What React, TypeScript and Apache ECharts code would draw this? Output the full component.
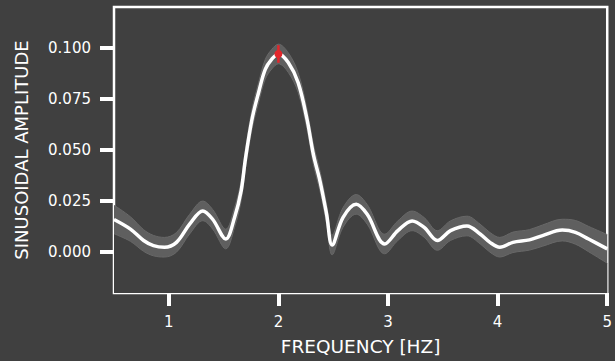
import React, { useEffect, useRef } from "react";
import * as echarts from "echarts";

// Periodogram: frequency grid (Hz) and fitted sinusoidal amplitude
const freq = [0.5, 0.65, 0.77, 0.86, 0.96, 1.07, 1.19, 1.31, 1.4, 1.52, 1.6, 1.66, 1.7, 1.76, 1.82, 1.88, 1.94, 2.0, 2.09, 2.18, 2.26, 2.32, 2.38, 2.44, 2.49, 2.59, 2.71, 2.81, 2.97, 3.09, 3.22, 3.33, 3.45, 3.57, 3.72, 3.84, 3.93, 4.02, 4.14, 4.29, 4.41, 4.59, 4.71, 4.83, 5.0];
const amplitude = [0.016, 0.0113, 0.0057, 0.0032, 0.0024, 0.0048, 0.0137, 0.0202, 0.0161, 0.0064, 0.017, 0.03, 0.046, 0.0653, 0.0783, 0.0895, 0.0945, 0.097, 0.0928, 0.083, 0.0653, 0.0476, 0.0347, 0.0185, 0.0035, 0.017, 0.0234, 0.0185, 0.004, 0.0105, 0.0153, 0.0121, 0.0057, 0.0105, 0.0128, 0.0089, 0.0048, 0.0024, 0.0048, 0.006, 0.0081, 0.0108, 0.0097, 0.0064, 0.0016];
// 1-sigma uncertainty of the amplitude
const sigma = [0.007, 0.006, 0.0053, 0.005, 0.0048, 0.0048, 0.0048, 0.0048, 0.0048, 0.0048, 0.0048, 0.0048, 0.0048, 0.0048, 0.0048, 0.0048, 0.0048, 0.0048, 0.0048, 0.0048, 0.0048, 0.0048, 0.0048, 0.0048, 0.0048, 0.0048, 0.0048, 0.0048, 0.0048, 0.0048, 0.0048, 0.0048, 0.0048, 0.0048, 0.0048, 0.0048, 0.0048, 0.0048, 0.005, 0.005, 0.0052, 0.0053, 0.0058, 0.0062, 0.007];

// Best-fit peak with its error bar
const peakFreq = [2.0];
const peakAmp = [0.097];
const peakErr = [0.0043];

const xTicks = [1, 2, 3, 4, 5];
const yTicks = [0, 0.025, 0.05, 0.075, 0.1];

const FONT = "DejaVu Sans";
const BG = "#404040";
const BAND = "#5f5f5f";
const RED = "#e3262b";

export default function App() {
  const ref = useRef<HTMLDivElement>(null);

  useEffect(() => {
    if (!ref.current) return;
    const chart = echarts.init(ref.current, undefined, { renderer: "svg" });

    const upper = freq.map((f, i) => [f, amplitude[i] + sigma[i]]);
    const lower = freq.map((f, i) => [f, amplitude[i] - sigma[i]]);
    const line = freq.map((f, i) => [f, amplitude[i]]);
    const peak = peakFreq.map((f, i) => [f, peakAmp[i], peakErr[i]]);

    chart.setOption({
      animation: false,
      backgroundColor: BG,
      grid: {
        left: 114,
        right: 3,
        top: 7,
        bottom: 65,
        show: true,
        borderColor: "#ffffff",
        borderWidth: 2.5,
        backgroundColor: "transparent",
      },
      xAxis: {
        type: "value",
        min: 0.5,
        max: 5,
        name: "FREQUENCY [HZ]",
        nameLocation: "middle",
        nameGap: 44,
        nameTextStyle: { color: "#ffffff", fontFamily: FONT, fontSize: 18.5 },
        axisLine: { show: false, onZero: false },
        axisTick: {
          show: true,
          customValues: xTicks,
          length: 13,
          lineStyle: { color: "#ffffff", width: 4 },
        },
        axisLabel: {
          customValues: xTicks,
          color: "#ffffff",
          fontFamily: FONT,
          fontSize: 15,
          margin: 21,
          formatter: (v: number) => String(v),
        },
        splitLine: { show: false },
      },
      yAxis: {
        type: "value",
        min: -0.02,
        max: 0.12,
        name: "SINUSOIDAL AMPLITUDE",
        nameLocation: "middle",
        nameGap: 84,
        nameTextStyle: { color: "#ffffff", fontFamily: FONT, fontSize: 18 },
        axisLine: { show: false, onZero: false },
        axisTick: {
          show: true,
          customValues: yTicks,
          length: 14,
          lineStyle: { color: "#ffffff", width: 4 },
        },
        axisLabel: {
          customValues: yTicks,
          color: "#ffffff",
          fontFamily: FONT,
          fontSize: 15,
          margin: 23,
          formatter: (v: number) => v.toFixed(3),
        },
        splitLine: { show: false },
      },
      series: [
        // uncertainty band: upper edge filled grey down to the floor...
        {
          type: "line",
          data: upper,
          smooth: 0.35,
          symbol: "none",
          lineStyle: { color: "#686868", width: 1 },
          areaStyle: { color: BAND, opacity: 1, origin: "start" },
          silent: true,
          z: 1,
        },
        // ...and the region under the lower edge painted back with the background
        {
          type: "line",
          data: lower,
          smooth: 0.35,
          symbol: "none",
          lineStyle: { color: "#686868", width: 1 },
          areaStyle: { color: BG, opacity: 1, origin: "start" },
          silent: true,
          z: 2,
        },
        {
          type: "line",
          data: line,
          smooth: 0.35,
          symbol: "none",
          lineStyle: { color: "#ffffff", width: 3.5 },
          z: 3,
        },
        {
          type: "custom",
          data: peak,
          z: 4,
          renderItem: (_params: any, api: any) => {
            const x = api.value(0);
            const y = api.value(1);
            const e = api.value(2);
            const c = api.coord([x, y]);
            const lo = api.coord([x, y - e]);
            const hi = api.coord([x, y + e]);
            return {
              type: "group",
              children: [
                {
                  type: "line",
                  shape: { x1: lo[0], y1: lo[1], x2: hi[0], y2: hi[1] },
                  style: { stroke: RED, lineWidth: 2.5 },
                },
                {
                  type: "circle",
                  shape: { cx: c[0], cy: c[1], r: 4 },
                  style: { fill: RED },
                },
              ],
            };
          },
        },
      ],
    });

    return () => chart.dispose();
  }, []);

  return <div ref={ref} style={{ width: 615, height: 361, position: "absolute", left: 0, top: 0 }} />;
}
